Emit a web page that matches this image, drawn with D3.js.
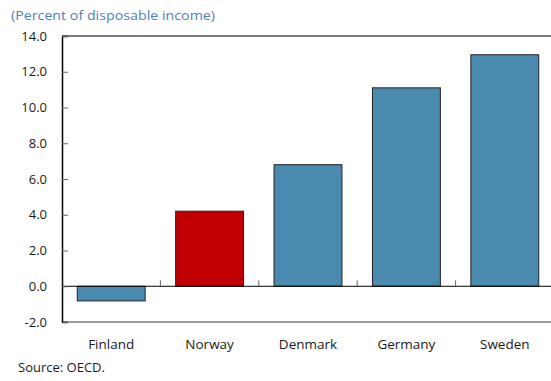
<!DOCTYPE html>
<html>
<head>
<meta charset="utf-8">
<script src="https://cdn.jsdelivr.net/npm/d3@7"></script>
<style>
  body { margin: 0; background: #fff; }
  svg { display: block; font-family: "Open Sans", "Noto Sans", sans-serif; }
</style>
</head>
<body>
<svg id="chart" width="551" height="381"></svg>
<script>
const categories = ["Finland", "Norway", "Denmark", "Germany", "Sweden"];
const values = [-0.82, 4.2, 6.8, 11.1, 12.95];
const highlight = ["Norway"];
const yTicks = [-2, 0, 2, 4, 6, 8, 10, 12, 14];
const subtitle = "(Percent of disposable income)";
const source = "Source: OECD.";

(function () {
const svg = d3.select("#chart");
const pLeft = 62, pRight = 554, pTop = 36, pBottom = 322;
const fmt = v => (v < 0 ? "-" : "") + Math.abs(v).toFixed(1);

const x = d3.scaleBand().domain(categories).range([pLeft, pRight]).paddingInner(0.31).paddingOuter(0.155);
const y = d3.scaleLinear().domain([-2, 14]).range([pBottom, pTop]);

// subtitle
svg.append("text").attr("x", 11).attr("y", 20).attr("font-size", 13.5).attr("fill", "#4f81bd")
  .attr("textLength", 204).attr("lengthAdjust", "spacingAndGlyphs").text(subtitle);

// top frame line
svg.append("line").attr("x1", pLeft).attr("x2", 551).attr("y1", y(14)).attr("y2", y(14))
  .attr("stroke", "#555").attr("stroke-width", 1.5);
// bottom line
svg.append("line").attr("x1", pLeft).attr("x2", 551).attr("y1", y(-2)).attr("y2", y(-2))
  .attr("stroke", "#777").attr("stroke-width", 1.5);

// bars
svg.selectAll("rect.bar").data(categories).enter().append("rect")
  .attr("class", "bar")
  .attr("x", d => x(d))
  .attr("width", x.bandwidth())
  .attr("y", (d, i) => y(Math.max(0, values[i])))
  .attr("height", (d, i) => Math.abs(y(values[i]) - y(0)))
  .attr("fill", d => highlight.includes(d) ? "#c00000" : "#4a8aae")
  .attr("stroke", "#222").attr("stroke-width", 1);

// zero line
svg.append("line").attr("x1", pLeft).attr("x2", 551).attr("y1", y(0)).attr("y2", y(0))
  .attr("stroke", "#000").attr("stroke-width", 1);

// category separator ticks on zero line
const step = x.step();
categories.slice(1).forEach(c => {
  const bx = x(c) - (step - x.bandwidth()) / 2;
  svg.append("line").attr("x1", bx).attr("x2", bx).attr("y1", y(0)).attr("y2", y(0) - 6)
    .attr("stroke", "#666").attr("stroke-width", 1);
});

// y axis
const yAxis = d3.axisLeft(y).tickValues(yTicks).tickFormat(fmt).tickSize(-6).tickPadding(15);
const ga = svg.append("g").attr("transform", `translate(${pLeft},0)`).call(yAxis);
ga.select(".domain").attr("stroke", "#000").attr("stroke-width", 1.5);
ga.selectAll(".tick line").attr("stroke", "#666");
ga.selectAll(".tick text").attr("font-size", 13).attr("fill", "#1a1a1a")
  .attr("font-family", "'Open Sans', 'Noto Sans', sans-serif");

// x labels
svg.selectAll("text.cat").data(categories).enter().append("text")
  .attr("class", "cat")
  .attr("x", d => x(d) + x.bandwidth() / 2)
  .attr("y", 349)
  .attr("text-anchor", "middle")
  .attr("font-size", 13.5).attr("fill", "#1a1a1a")
  .text(d => d);

// source
svg.append("text").attr("x", 18).attr("y", 372).attr("font-size", 13).attr("fill", "#1a1a1a").text(source);
})();
</script>
</body>
</html>
